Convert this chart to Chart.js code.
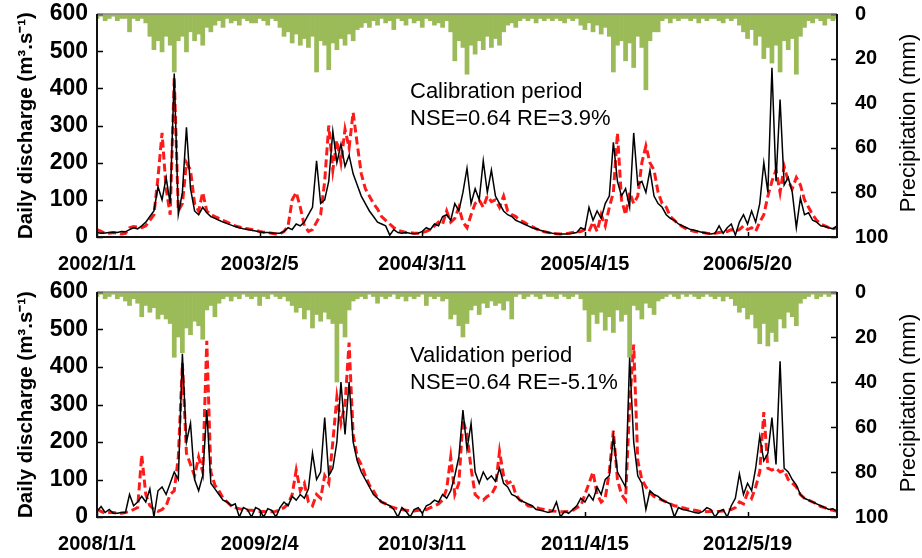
<!DOCTYPE html>
<html>
<head>
<meta charset="utf-8">
<script src="https://cdn.jsdelivr.net/npm/chart.js@4.4.1/dist/chart.umd.min.js"></script>
<style>
  html, body { margin: 0; padding: 0; background: #fff; }
  #wrap { position: relative; width: 922px; height: 558px; overflow: hidden; font-family: "Liberation Sans", Arial, sans-serif; }
  canvas { position: absolute; left: 0; }
  .rt { position: absolute; transform: translate(-50%, -50%) rotate(-90deg); white-space: nowrap; font-size: 22px; color: #000; }
  .note { position: absolute; font-size: 22px; line-height: 27px; color: #000; white-space: nowrap; }
</style>
</head>
<body>
<div id="wrap">
  <canvas id="c1" width="922" height="278" style="top:0px"></canvas>
  <canvas id="c2" width="922" height="280" style="top:278px"></canvas>
  <div class="rt" style="left:908px; top:123px">Precipitation (mm)</div>
  <div class="rt" style="left:908px; top:403px">Precipitation (mm)</div>
  <div class="note" style="left:410px; top:77px">Calibration period<br>NSE=0.64 RE=3.9%</div>
  <div class="note" style="left:410px; top:341px">Validation period<br>NSE=0.64 RE=-5.1%</div>
</div>
<script>
// ---- Data (one value per 10-day step) ----
// Calibration period 2002/1/1 - 2006/12/31
const tickLabelsCal = ['2002/1/1', '2003/2/5', '2004/3/11', '2005/4/15', '2006/5/20'];
const tickLabelsVal = ['2008/1/1', '2009/2/4', '2010/3/11', '2011/4/15', '2012/5/19'];
const tickSteps = [0, 40, 80, 120, 160];

const obsCal = [
  12, 10, 11, 12, 13, 12, 15, 14, 20, 25,
  22, 30, 40, 55, 70, 135, 100, 160, 90, 440,
  60, 120, 295, 130, 70, 60, 80, 65, 55, 50,
  45, 40, 36, 32, 28, 25, 22, 20, 18, 16,
  14, 12, 12, 11, 10, 10, 15, 25, 20, 35,
  30, 40, 60, 80, 205, 90, 100, 150, 285, 200,
  250, 190, 220, 170, 140, 110, 90, 70, 55, 40,
  35, 30, 5, 20, 12, 10, 12, 10, 9, 10,
  15, 25, 20, 35, 30, 55, 60, 45, 90, 70,
  120, 185, 90, 130, 100, 205, 120, 180, 110, 90,
  70, 60, 55, 45, 40, 35, 30, 25, 22, 18,
  15, 12, 10, 9, 8, 8, 9, 10, 12, 25,
  20, 80, 45, 70, 50, 90, 110, 255, 150, 110,
  130, 80, 280, 140, 150, 120, 180, 110, 90, 80,
  60, 50, 45, 35, 30, 25, 20, 18, 15, 12,
  10, 8, 10, 30, 10, 25, 35, 5, 40, 60,
  35, 70, 40, 90, 200, 120, 455, 150, 370, 140,
  160, 120, 25, 105, 60, 65, 45, 40, 30, 28,
  25, 22, 30
];
const simCal = [
  20, 15, 10, 10, 12, 10, 8, 10, 25, 28,
  27, 25, 30, 45, 60, 160, 280, 130, 60, 430,
  70, 90, 200, 180, 90, 70, 120, 70, 60, 55,
  50, 45, 40, 35, 30, 27, 24, 22, 20, 18,
  15, 13, 12, 10, 8, 8, 15, 30, 100, 120,
  80, 30, 15, 20, 40, 60, 150, 300, 180, 260,
  200, 290, 240, 335, 250, 170, 130, 110, 90, 75,
  55, 45, 35, 25, 18, 15, 12, 12, 10, 10,
  12, 15, 20, 30, 40, 35, 70, 40, 50, 80,
  40, 25, 60, 90, 100, 80, 110, 95, 100, 80,
  110, 70, 60, 55, 45, 40, 33, 28, 22, 18,
  14, 12, 10, 9, 8, 9, 10, 12, 14, 15,
  20, 15, 40, 15, 60, 30, 80, 120, 280, 100,
  60, 120, 90, 110, 200, 245, 200, 180, 120, 90,
  80, 55, 45, 35, 28, 22, 18, 15, 13, 12,
  10, 9, 10, 12, 14, 15, 20, 15, 20, 30,
  20, 25, 15, 40, 60, 110, 150, 180, 120, 190,
  150, 130, 160, 140, 100, 80, 60, 45, 35, 30,
  25, 22, 25
];
const precipCal = [
  2, 1, 3, 2, 1, 3, 2, 2, 8, 2,
  3, 2, 4, 10, 16, 12, 17, 10, 14, 26,
  12, 10, 17, 8, 12, 9, 14, 6, 8, 5,
  3, 6, 2, 4, 3, 5, 2, 3, 4, 4,
  2, 3, 5, 2, 3, 6, 10, 8, 13, 9,
  14, 11, 15, 10, 26, 12, 14, 25, 13, 16,
  11, 14, 9, 12, 7, 6, 4, 6, 3, 5,
  2, 4, 3, 7, 2, 3, 5, 2, 4, 3,
  6, 2, 3, 5, 4, 6, 3, 8, 21, 12,
  15, 27, 14, 18, 12, 16, 10, 15, 11, 14,
  8, 5, 4, 6, 3, 2, 3, 2, 4, 2,
  3, 2, 3, 2, 3, 4, 2, 3, 2, 5,
  7, 4, 8, 5, 9, 6, 10, 26, 14, 12,
  21, 13, 24, 10, 15, 34, 12, 8, 8, 3,
  2, 4, 2, 3, 2, 2, 3, 2, 4, 2,
  3, 2, 2, 3, 4, 2, 3, 2, 5, 8,
  11, 7, 14, 10, 20, 15, 22, 14, 26, 12,
  16, 11, 27, 10, 6, 3, 4, 2, 3, 5,
  2, 3, 2
];

// Validation period 2008/1/1 - 2012/12/31
const obsVal = [
  15, 28, 12, 20, 10, 10, 12, 12, 60, 30,
  40, 55, 40, 75, 0, 70, 80, 60, 90, 120,
  100, 435, 200, 250, 100, 70, 110, 285, 90, 75,
  60, 45, 40, 30, 35, 0, 25, 20, 0, 25,
  20, 0, 22, 18, 0, 25, 40, 30, 55, 45,
  60, 50, 75, 170, 100, 120, 265, 110, 130, 200,
  360, 220, 360, 200, 150, 120, 100, 80, 60, 50,
  40, 35, 30, 20, 0, 25, 15, 0, 20, 25,
  10, 30, 35, 45, 40, 60, 50, 70, 110, 160,
  285, 180, 250, 120, 90, 120, 100, 110, 95, 130,
  90, 80, 60, 55, 45, 40, 35, 30, 20, 18,
  15, 12, 15, 40, 0, 15, 10, 20, 30, 50,
  40, 60, 45, 80, 60, 100, 110, 215, 120, 100,
  80, 425, 200, 110, 90, 20, 70, 60, 55, 45,
  40, 35, 0, 25, 20, 18, 15, 12, 10, 15,
  25, 20, 0, 15, 20, 0, 30, 50, 115, 60,
  90, 70, 130, 215, 150, 170, 265, 140, 415, 130,
  120, 100, 85, 60, 50, 45, 40, 35, 30, 25,
  20, 22, 15
];
const simVal = [
  20, 15, 10, 12, 12, 10, 10, 12, 15, 20,
  25, 165, 60, 30, 20, 15, 20, 30, 60, 70,
  160, 410, 170, 140, 110, 160, 120, 470, 120, 85,
  70, 50, 40, 30, 25, 22, 20, 18, 18, 16,
  15, 15, 14, 14, 15, 20, 25, 35, 60, 125,
  70, 90, 40, 30, 60, 50, 110, 90, 200, 320,
  250, 300, 465, 220, 160, 140, 110, 85, 70, 50,
  40, 35, 28, 25, 22, 20, 18, 16, 16, 18,
  18, 20, 25, 30, 35, 45, 75, 160, 60, 90,
  260, 220, 130, 60, 50, 45, 55, 60, 80, 175,
  110, 90, 95, 60, 45, 40, 30, 28, 25, 22,
  20, 18, 16, 15, 14, 14, 15, 18, 25, 30,
  60, 90, 120, 60, 40, 50, 120, 230, 100, 60,
  45, 300, 460, 150, 100, 80, 65, 55, 50, 45,
  40, 35, 30, 28, 25, 22, 20, 18, 16, 15,
  14, 15, 14, 15, 16, 18, 20, 25, 40, 35,
  65, 50, 80, 120, 280, 130, 125, 130, 120, 125,
  100, 90, 80, 60, 50, 45, 40, 35, 28, 25,
  20, 18, 15
];
const precipVal = [
  2, 1, 3, 2, 1, 3, 2, 4, 6, 3,
  5, 11, 6, 9, 7, 12, 10, 12, 14, 29,
  20, 27, 16, 19, 13, 15, 21, 8, 6, 11,
  5, 3, 2, 4, 2, 3, 1, 2, 3, 2,
  6, 2, 3, 1, 2, 3, 2, 4, 6, 9,
  7, 12, 8, 16, 10, 13, 9, 12, 14, 40,
  14, 20, 8, 4, 3, 2, 3, 1, 2, 5,
  2, 3, 2, 1, 3, 2, 4, 2, 3, 2,
  1, 6, 2, 3, 2, 4, 3, 12, 10, 15,
  20, 14, 8, 6, 10, 5, 7, 4, 6, 5,
  8, 4, 12, 2, 1, 3, 2, 1, 2, 3,
  1, 2, 2, 3, 1, 2, 3, 2, 1, 3,
  8, 22, 10, 14, 9, 17, 11, 18, 8, 13,
  10, 29, 6, 8, 12, 5, 7, 10, 4, 3,
  2, 1, 2, 3, 1, 2, 1, 2, 3, 2,
  1, 2, 3, 2, 4, 2, 3, 6, 9, 7,
  12, 10, 16, 23, 14, 24, 18, 22, 12, 16,
  9, 11, 15, 5, 3, 2, 1, 3, 2, 1,
  2, 1, 1
];

// ---- Rendering ----
const FONT = '"Liberation Sans", Arial, sans-serif';

const framePlugin = {
  id: 'frame',
  afterDatasetsDraw(chart) {
    const { ctx, chartArea: a, scales } = chart;
    ctx.save();
    ctx.strokeStyle = '#000';
    ctx.lineWidth = 1.5;
    ctx.beginPath();
    scales.y.ticks.forEach((t, i) => {
      const y = Math.round(scales.y.getPixelForTick(i)) + 0.5;
      ctx.moveTo(a.left, y); ctx.lineTo(a.left + 6, y);
    });
    scales.y2.ticks.forEach((t, i) => {
      const y = Math.round(scales.y2.getPixelForTick(i)) + 0.5;
      ctx.moveTo(a.right, y); ctx.lineTo(a.right - 6, y);
    });
    scales.x.ticks.forEach((t, i) => {
      const x = Math.round(scales.x.getPixelForTick(i)) + 0.5;
      ctx.moveTo(x, a.bottom); ctx.lineTo(x, a.bottom - 5);
    });
    ctx.stroke();
    ctx.strokeStyle = '#8a8a8a';
    ctx.lineWidth = 1.5;
    ctx.beginPath();
    ctx.moveTo(a.left, a.top); ctx.lineTo(a.right, a.top);
    ctx.stroke();
    ctx.strokeStyle = '#111';
    ctx.lineWidth = 2;
    ctx.beginPath();
    ctx.moveTo(a.left, a.top); ctx.lineTo(a.left, a.bottom);
    ctx.lineTo(a.right, a.bottom); ctx.lineTo(a.right, a.top);
    ctx.stroke();
    ctx.restore();
  }
};

function fixVertical(width) {
  return (s) => { s.width = width; s.paddingTop = 0; s.paddingBottom = 0; };
}

function makeChart(canvasId, obs, sim, precip, tickLabels, xHeight) {
  const labels = obs.map((_, i) => i);
  return new Chart(document.getElementById(canvasId), {
    type: 'bar',
    data: {
      labels: labels,
      datasets: [
        {
          type: 'line', label: 'Observed', data: obs, yAxisID: 'y',
          borderColor: '#000', borderWidth: 1.5, pointRadius: 0, tension: 0, order: 0
        },
        {
          type: 'line', label: 'Simulated', data: sim, yAxisID: 'y',
          borderColor: '#ff1a1a', borderWidth: 3, borderDash: [8, 4], pointRadius: 0, tension: 0, order: 1
        },
        {
          type: 'bar', label: 'Precipitation', data: precip, yAxisID: 'y2',
          backgroundColor: '#9bbb59', borderWidth: 0, barPercentage: 1, categoryPercentage: 1, order: 2
        }
      ]
    },
    options: {
      responsive: false,
      devicePixelRatio: 1,
      animation: false,
      events: [],
      layout: { padding: { top: 14, left: 0, right: 0, bottom: 0 } },
      plugins: { legend: { display: false }, tooltip: { enabled: false } },
      scales: {
        x: {
          type: 'category',
          offset: false,
          grid: { display: false, drawTicks: false },
          border: { display: false },
          afterBuildTicks: (s) => { s.ticks = tickSteps.map(v => ({ value: v })); },
          afterFit: (s) => { s.height = xHeight; },
          ticks: {
            autoSkip: false, maxRotation: 0, minRotation: 0, padding: 15,
            color: '#000',
            font: { family: FONT, size: 20, weight: 'bold' },
            callback: (v, i) => tickLabels[i]
          }
        },
        y: {
          position: 'left', min: 0, max: 600,
          grid: { display: false, drawTicks: false },
          border: { display: false },
          afterFit: fixVertical(97),
          ticks: { stepSize: 100, padding: 9, color: '#000', font: { family: FONT, size: 23, weight: 'bold' } },
          title: {
            display: true, text: 'Daily discharge (m³.s⁻¹)', color: '#000',
            padding: { top: 14, bottom: 0 },
            font: { family: FONT, size: 20.5, weight: 'bold', lineHeight: 1.2 }
          }
        },
        y2: {
          position: 'right', min: 0, max: 100, reverse: true,
          grid: { display: false, drawTicks: false },
          border: { display: false },
          afterFit: fixVertical(85),
          ticks: { stepSize: 20, padding: 18, color: '#000', font: { family: FONT, size: 20, weight: 'bold' } }
        }
      }
    },
    plugins: [framePlugin]
  });
}

makeChart('c1', obsCal, simCal, precipCal, tickLabelsCal, 41);
makeChart('c2', obsVal, simVal, precipVal, tickLabelsVal, 41);
</script>
</body>
</html>
